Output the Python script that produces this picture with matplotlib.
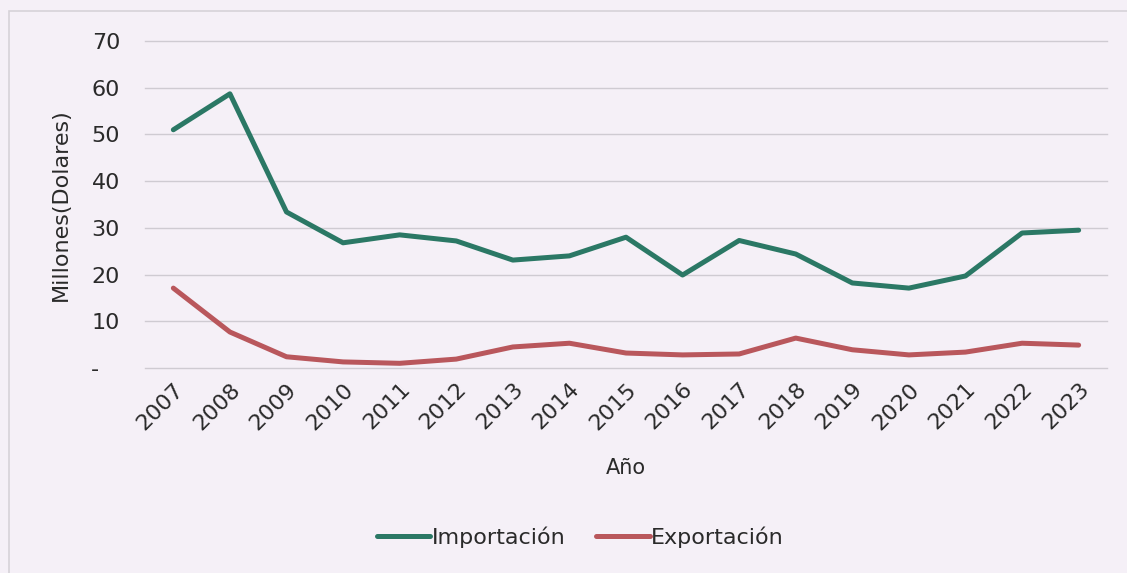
import matplotlib.pyplot as plt
from matplotlib.patches import Rectangle

years = [str(y) for y in range(2007, 2024)]
importacion = [51.0, 58.7, 33.4, 26.8, 28.5, 27.2, 23.1, 24.0, 28.0, 19.9,
               27.3, 24.4, 18.2, 17.1, 19.7, 28.9, 29.5]
exportacion = [17.1, 7.7, 2.4, 1.3, 1.0, 1.9, 4.5, 5.3, 3.2, 2.8,
               3.0, 6.4, 3.9, 2.8, 3.4, 5.3, 4.9]
y_ticks = [0, 10, 20, 30, 40, 50, 60, 70]
y_labels = ["-   ", "10", "20", "30", "40", "50", "60", "70"]

bg = "#f5f0f7"
green = "#2b7865"
red = "#b9575c"
text_color = "#2a2a2a"

fig = plt.figure(figsize=(11.27, 5.73), dpi=100, facecolor=bg)
ax = fig.add_axes([0.1287, 0.3578, 0.8535, 0.5706], facecolor=bg)

# thin frame around the chart area
fig.patches.append(Rectangle((0.008, -0.01), 1.0, 0.99, transform=fig.transFigure,
                             fill=False, edgecolor="#d6d2d8", linewidth=1.2))

x = list(range(len(years)))
ax.plot(x, importacion, color=green, linewidth=3.6, solid_capstyle="round",
        solid_joinstyle="round", label="Importación", zorder=3)
ax.plot(x, exportacion, color=red, linewidth=3.6, solid_capstyle="round",
        solid_joinstyle="round", label="Exportación", zorder=3)

ax.set_xlim(-0.5, len(years) - 0.5)
ax.set_ylim(0, 70)
ax.set_yticks(y_ticks)
ax.set_yticklabels(y_labels)
ax.set_xticks(x)
ax.set_xticklabels(years, rotation=45, ha="right", rotation_mode="anchor")

ax.grid(axis="y", color="#cfcbd2", linewidth=1.0)
for gl in ax.get_ygridlines():
    gl.set_clip_on(False)
ax.set_axisbelow(True)
for s in ax.spines.values():
    s.set_visible(False)
ax.tick_params(axis="both", length=0, labelsize=16, colors=text_color)
ax.tick_params(axis="y", pad=18)
ax.tick_params(axis="x", pad=8)

ax.set_ylabel("Millones(Dolares)", fontsize=16, color=text_color, labelpad=14)
ax.set_xlabel("Año", fontsize=15, color=text_color, labelpad=18)

leg = fig.legend(loc="center", bbox_to_anchor=(0.515, 0.062), ncol=2, frameon=False,
                 fontsize=16, handlelength=2.4, handletextpad=0.05, columnspacing=1.4)
for t in leg.get_texts():
    t.set_color(text_color)

fig.savefig("out.png", dpi=100, facecolor=bg)
